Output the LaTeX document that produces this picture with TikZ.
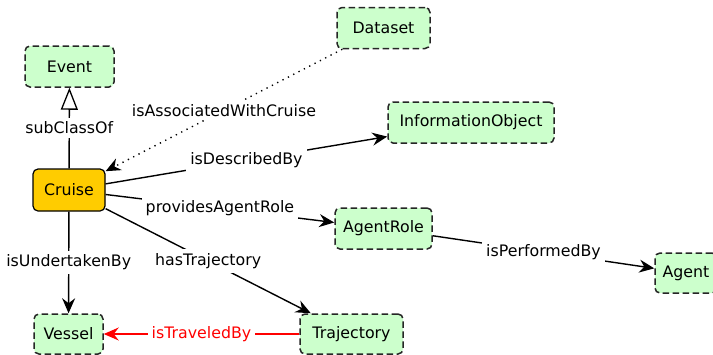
\documentclass[tikz,border=0pt]{standalone}
\usepackage{fontspec}
\setmainfont{DejaVu Sans}
\usetikzlibrary{arrows.meta}
\definecolor{clsfill}{HTML}{CCFFCC}
\definecolor{mainfill}{HTML}{FFCC00}
\definecolor{edgered}{HTML}{FF0000}
\tikzset{
  every node/.style={font=\fontsize{15.8}{18}\selectfont},
  cls/.style={draw=black!85, fill=clsfill, line width=1.5pt,
    dash pattern=on 6.5pt off 3.5pt, rounded corners=5pt,
    inner sep=0pt, minimum height=41pt},
  maincls/.style={draw=black, fill=mainfill, line width=1.2pt,
    rounded corners=5pt, inner sep=0pt, minimum height=42pt},
  rel/.style={line width=1.4pt, -{Stealth[length=15pt,width=13pt,inset=5pt]}},
  isa/.style={line width=1.4pt, -{Triangle[open,length=22pt,width=17pt,line width=1.3pt]}},
  lbl/.style={fill=white, inner sep=4pt, midway},
}
\begin{document}
\begin{tikzpicture}[x=1pt,y=-1pt]
  \useasboundingbox[fill=white] (0,0) rectangle (713,354);

  % classes
  \node[cls, minimum width=89pt] (event) at (69.5,66.5) {Event};
  \node[cls, minimum width=93pt] (dataset) at (383.5,28) {Dataset};
  \node[cls, minimum width=166pt] (info) at (471,122.5) {InformationObject};
  \node[maincls, minimum width=72pt] (cruise) at (69,190) {Cruise};
  \node[cls, minimum width=97pt] (role) at (383.5,228.5) {AgentRole};
  \node[cls, minimum width=62pt, minimum height=40pt] (agent) at (686,273) {Agent};
  \node[cls, minimum width=69pt, minimum height=40pt] (vessel) at (68.5,334) {Vessel};
  \node[cls, minimum width=103pt, minimum height=40pt] (traj) at (351.5,334) {Trajectory};

  % relations
  \draw[isa] (cruise) -- node[lbl] {subClassOf} (event);
  \draw[rel, dash pattern=on 1.3pt off 4.7pt] (dataset) -- node[lbl] {isAssociatedWithCruise} (cruise);
  \draw[rel] (cruise) -- node[lbl] {isDescribedBy} (info);
  \draw[rel] (cruise) -- node[lbl] {providesAgentRole} (role);
  \draw[rel] (cruise) -- node[lbl] {hasTrajectory} (traj);
  \draw[rel] (cruise) -- node[lbl] {isUndertakenBy} (vessel);
  \draw[rel] (role) -- node[lbl] {isPerformedBy} (agent);
  \draw[rel, draw=edgered, fill=edgered] (traj) -- node[lbl, text=edgered] {isTraveledBy} (vessel);
\end{tikzpicture}
\end{document}
